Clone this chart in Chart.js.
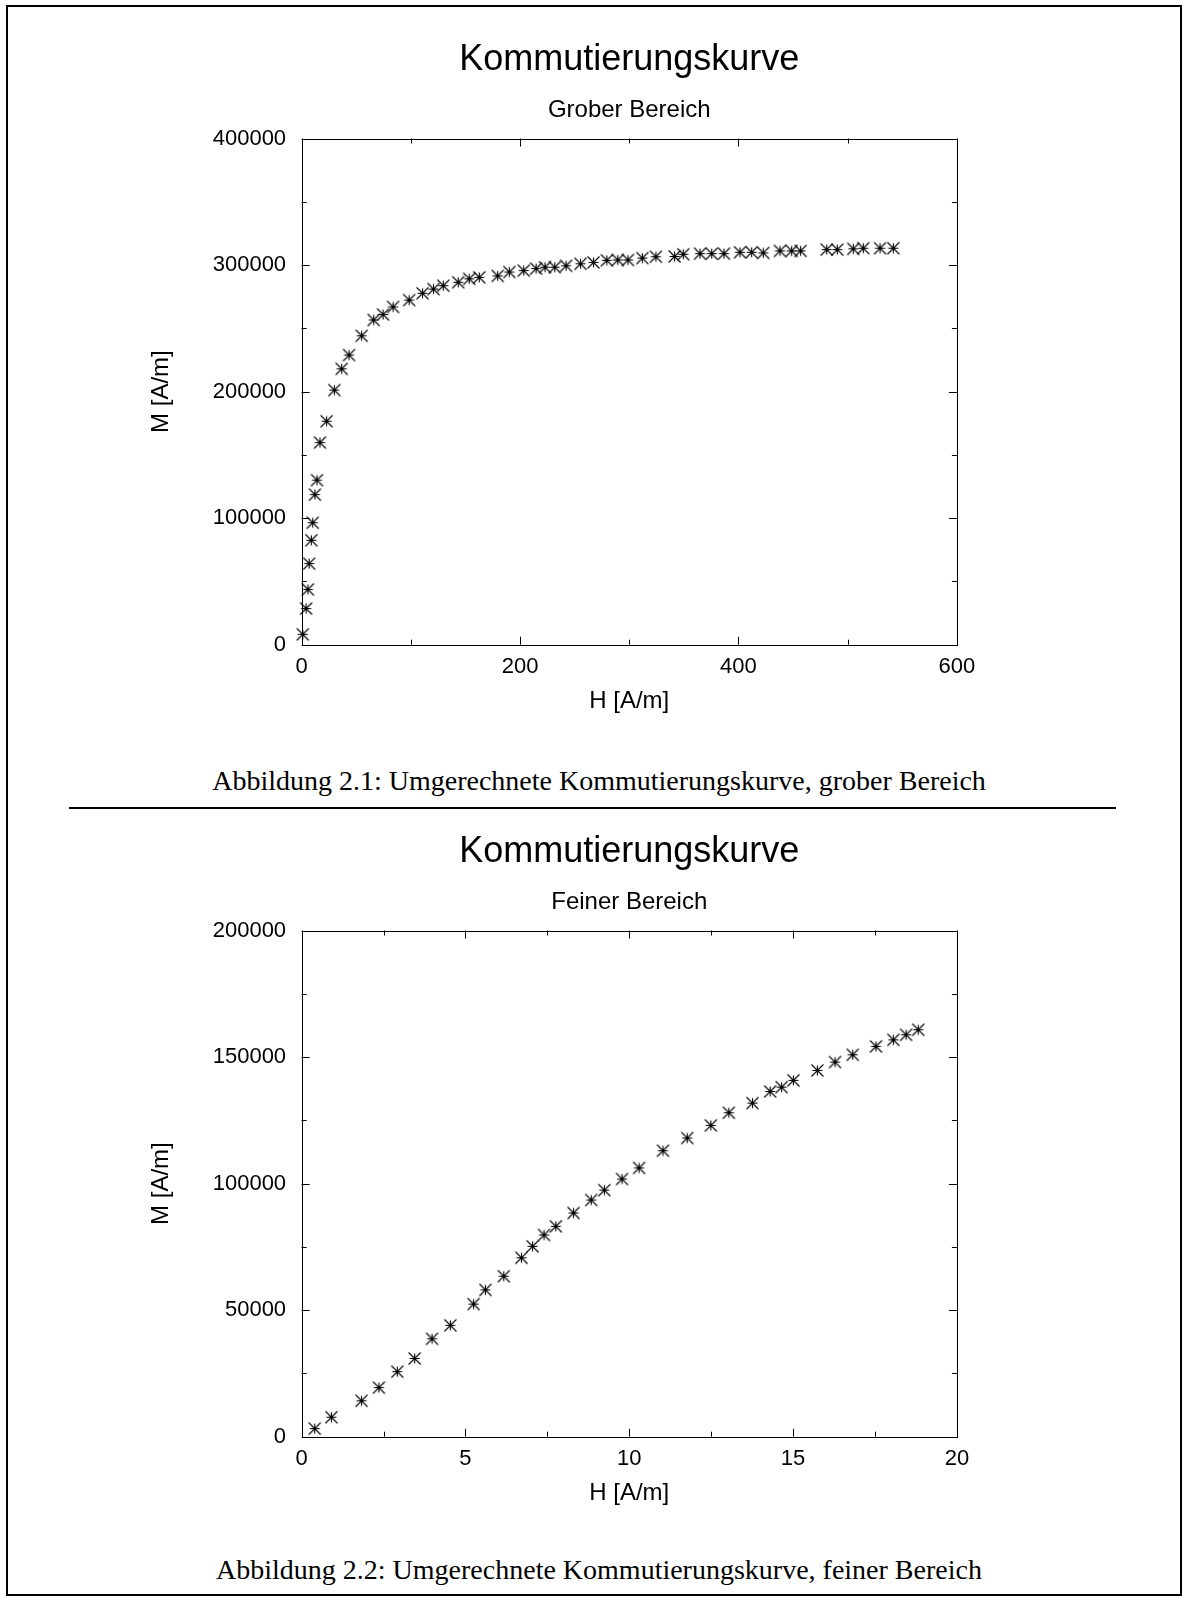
<!DOCTYPE html>
<html>
<head>
<meta charset="utf-8">
<script src="https://cdn.jsdelivr.net/npm/chart.js@4"></script>
<style>
    body { margin: 0; background: #fff; }
    #page { position: relative; width: 1184px; height: 1597px; overflow: hidden; }
    .frame { position: absolute; left: 6px; top: 5px; width: 1172px; height: 1587px; border: 2px solid #000; }
    .wrap { position: absolute; left: 0; width: 1184px; height: 760px; }
    .caption { position: absolute; left: 209px; width: 780px; height: 32px; line-height: 32px;
               text-align: center; white-space: nowrap; font-family: "Liberation Serif", serif;
               font-size: 28px; color: #000; }
    .rule { position: absolute; left: 69px; top: 807px; width: 1047px; height: 2px; background: #000; }
</style>
</head>
<body>
<div id="page">
    <div class="frame"></div>
    <div class="wrap" style="top:0px"><canvas id="coarseChart" width="1184" height="760"></canvas></div>
    <div class="caption" style="top:765px">Abbildung 2.1: Umgerechnete Kommutierungskurve, grober Bereich</div>
    <div class="rule"></div>
    <div class="wrap" style="top:791.5px"><canvas id="fineChart" width="1184" height="760"></canvas></div>
    <div class="caption" style="top:1554px">Abbildung 2.2: Umgerechnete Kommutierungskurve, feiner Bereich</div>
</div>

<script>
// Grober Bereich: H [A/m] und M [A/m]
const coarseH = [1.1, 4.1, 5.8, 6.9, 8.9, 10.2, 12.2, 14.1, 16.8, 22.9, 30.0, 36.7, 43.4, 55.0,
    66.0, 74.6, 83.8, 98.5, 110.7, 120.8, 129.7, 143.4, 153.5, 162.7, 179.5, 190.2, 203.4,
    214.7, 222.9, 231.8, 242.2, 255.4, 267.3, 279.5, 289.5, 298.8, 312.0, 324.4, 341.5,
    349.5, 364.8, 375.5, 386.7, 401.4, 412.1, 422.7, 438.0, 448.7, 456.9, 480.8, 490.5,
    505.1, 514.3, 529.6, 541.8];
const coarseM = [8200, 28600, 43700, 64100, 82500, 96400, 118600, 130000, 159700, 176600,
    201200, 218000, 228900, 244100, 256600, 260900, 266900, 272300, 277700, 281000, 283700,
    286400, 289100, 290300, 291400, 294500, 295600, 297200, 298300, 298300, 299400, 301000,
    302100, 303700, 304000, 304000, 305500, 306600, 306800, 308500, 309000, 309000, 309000,
    310100, 310100, 309600, 311200, 311200, 311200, 312200, 312200, 312800, 313300, 313300,
    313300];

// Feiner Bereich
const fineH = [0.40, 0.91, 1.83, 2.36, 2.92, 3.45, 3.98, 4.54, 5.25, 5.61, 6.17, 6.71, 7.05,
    7.40, 7.76, 8.30, 8.84, 9.24, 9.78, 10.30, 11.03, 11.77, 12.49, 13.04, 13.76, 14.30,
    14.65, 15.01, 15.74, 16.28, 16.82, 17.53, 18.06, 18.45, 18.82];
const fineM = [3200, 7700, 14200, 19400, 25700, 30900, 38700, 44000, 52400, 58000, 63400,
    70700, 75200, 79700, 83100, 88400, 93500, 97400, 101800, 106200, 113000, 118000, 123000,
    128000, 131800, 136400, 138100, 140800, 144700, 148000, 150900, 154200, 156800, 158800,
    160800];

// Achsenteilung
const coarseXTicks = [0, 200, 400, 600];
const coarseXMinor = [100, 300, 500];
const coarseYTicks = [0, 100000, 200000, 300000, 400000];
const coarseYMinor = [50000, 150000, 250000, 350000];
const fineXTicks = [0, 5, 10, 15, 20];
const fineXMinor = [2.5, 7.5, 12.5, 17.5];
const fineYTicks = [0, 50000, 100000, 150000, 200000];
const fineYMinor = [25000, 75000, 125000, 175000];

const sans = "'Liberation Sans', Arial, sans-serif";

// gnuplot-style asterisk: x and + on top of each other
function starMarker() {
    const c = document.createElement("canvas");
    c.width = 15;
    c.height = 15;
    const g = c.getContext("2d");
    g.strokeStyle = "#000";
    g.lineWidth = 1.1;
    g.beginPath();
    g.moveTo(1.5, 1.5); g.lineTo(13.5, 13.5);
    g.moveTo(13.5, 1.5); g.lineTo(1.5, 13.5);
    g.moveTo(7.5, 2.5); g.lineTo(7.5, 12.5);
    g.moveTo(2.5, 7.5); g.lineTo(12.5, 7.5);
    g.stroke();
    return c;
}

// closed frame with inward ticks on all four sides
const frameTicks = {
    id: "frameTicks",
    afterDatasetsDraw(chart, args, opts) {
        const { ctx, chartArea: a, scales: { x, y } } = chart;
        const snap = v => Math.round(v) + 0.5;
        ctx.save();
        ctx.strokeStyle = "#000";
        ctx.lineWidth = 1;
        ctx.strokeRect(snap(a.left), snap(a.top), Math.round(a.right - a.left), Math.round(a.bottom - a.top));

        ctx.beginPath();
        const xMark = (v, len) => {
            const px = snap(x.getPixelForValue(v));
            ctx.moveTo(px, a.bottom); ctx.lineTo(px, a.bottom - len);
            ctx.moveTo(px, a.top); ctx.lineTo(px, a.top + len);
        };
        const yMark = (v, len) => {
            const py = snap(y.getPixelForValue(v));
            ctx.moveTo(a.left, py); ctx.lineTo(a.left + len, py);
            ctx.moveTo(a.right, py); ctx.lineTo(a.right - len, py);
        };
        opts.xMajor.forEach(v => xMark(v, 8));
        opts.xMinor.forEach(v => xMark(v, 5));
        opts.yMajor.forEach(v => yMark(v, 8));
        opts.yMinor.forEach(v => yMark(v, 5));
        ctx.stroke();
        ctx.restore();
    }
};

function makeChart(id, hValues, mValues, subtitle, xMax, yMax, xTicks, xMinor, yTicks, yMinor) {

    const points = hValues.map((h, i) => ({ x: h, y: mValues[i] }));

    return new Chart(document.getElementById(id), {
        type: "scatter",
        data: {
            datasets: [{
                data: points,
                pointStyle: starMarker(),
                pointRadius: 7,
                pointHoverRadius: 7,
                clip: false
            }]
        },
        plugins: [frameTicks],
        options: {
            responsive: false,
            animation: false,
            events: [],
            layout: { padding: { top: 20, left: 146.6, right: 227.1, bottom: 44.6 } },
            plugins: {
                legend: { display: false },
                tooltip: { enabled: false },
                title: {
                    display: true,
                    fullSize: false,
                    text: "Kommutierungskurve",
                    color: "#000",
                    font: { family: sans, size: 36, weight: "normal" },
                    padding: { top: 18.4, bottom: 0 }
                },
                subtitle: {
                    display: true,
                    fullSize: false,
                    text: subtitle,
                    color: "#000",
                    font: { family: sans, size: 24, weight: "normal" },
                    padding: { top: 14, bottom: 14.1 }
                },
                frameTicks: { xMajor: xTicks, xMinor: xMinor, yMajor: yTicks, yMinor: yMinor }
            },
            scales: {
                x: {
                    type: "linear",
                    min: 0,
                    max: xMax,
                    grid: { display: false },
                    border: { display: false },
                    afterBuildTicks: scale => { scale.ticks = xTicks.map(v => ({ value: v })); },
                    afterFit: scale => { scale.height = 70.7; },
                    ticks: {
                        color: "#000",
                        padding: 1.5,
                        maxRotation: 0,
                        font: { family: sans, size: 22 },
                        callback: v => String(v)
                    },
                    title: {
                        display: true,
                        text: "H [A/m]",
                        color: "#000",
                        padding: 0,
                        font: { family: sans, size: 24 }
                    }
                },
                y: {
                    type: "linear",
                    min: 0,
                    max: yMax,
                    grid: { display: false },
                    border: { display: false },
                    afterBuildTicks: scale => { scale.ticks = yTicks.map(v => ({ value: v })); },
                    afterFit: scale => { scale.width = 155; },
                    ticks: {
                        color: "#000",
                        padding: 7.5,
                        font: { family: sans, size: 22 },
                        callback: v => String(v)
                    },
                    title: {
                        display: true,
                        text: "M [A/m]",
                        color: "#000",
                        padding: 0,
                        font: { family: sans, size: 24 }
                    }
                }
            }
        }
    });
}

makeChart("coarseChart", coarseH, coarseM, "Grober Bereich", 600, 400000,
    coarseXTicks, coarseXMinor, coarseYTicks, coarseYMinor);
makeChart("fineChart", fineH, fineM, "Feiner Bereich", 20, 200000,
    fineXTicks, fineXMinor, fineYTicks, fineYMinor);
</script>
</body>
</html>
